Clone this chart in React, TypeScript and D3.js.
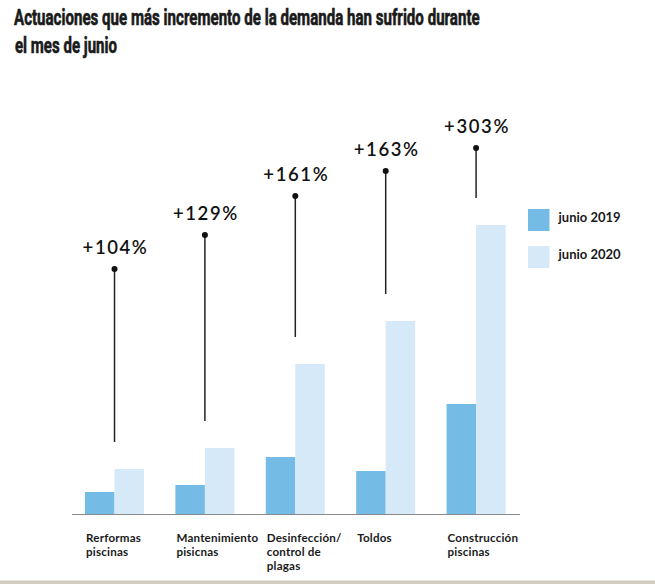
import React, { useEffect, useRef } from 'react';
import * as d3 from 'd3';

// values (arbitrary units, baseline = 0)
const categories = ['Reformas', 'Mantenimiento', 'Desinfeccion', 'Toldos', 'Construccion'];
const categoryLines = [
  ['Rerformas', 'piscinas'],
  ['Mantenimiento', 'pisicnas'],
  ['Desinfección/', 'control de', 'plagas'],
  ['Toldos'],
  ['Construcción', 'piscinas'],
];
const series = ['junio 2019', 'junio 2020'];
const values2019 = [22, 29, 57, 43, 110];
const values2020 = [45, 66, 150, 193, 289];
const increaseLabels = ['+104%', '+129%', '+161%', '+163%', '+303%'];
const markerLevels = [245, 279, 318, 343, 366];
const titleLines = ['Actuaciones que más incremento de la demanda han sufrido durante', 'el mes de junio'];

const colors = ['#74bce6', '#d6e9f9'];

function Chart() {
  const ref = useRef<HTMLDivElement>(null);

  useEffect(() => {
    const width = 655;
    const height = 584;

    d3.select(ref.current).select('svg').remove();

    const svg = d3
      .select(ref.current)
      .append('svg')
      .attr('width', width)
      .attr('height', height)
      .style('position', 'absolute')
      .style('left', 0)
      .style('top', 0)
      .style('background', '#fff');

    // title, squeezed horizontally to look like the condensed face of the original
    const title = svg
      .append('g')
      .style('font-family', 'Roboto, sans-serif')
      .style('font-weight', 700)
      .style('font-size', '21.5px')
      .attr('fill', '#1a1a1a')
      .attr('stroke', '#1a1a1a')
      .attr('stroke-width', 0.6);
    const titleWidths = [466, 102];
    titleLines.forEach((line, i) => {
      const g = title.append('g');
      const t = g.append('text').attr('x', 0).attr('y', 0).text(line);
      const natural = (t.node() as SVGTextElement).getComputedTextLength();
      const sx = natural > 0 ? titleWidths[i] / natural : 0.8;
      g.attr('transform', `translate(${14 + i}, ${25 + i * 28}) scale(${sx}, 1)`);
    });

    const baseline = 514;
    const y = d3.scaleLinear().domain([0, 400]).range([baseline, baseline - 400]);
    const x = d3.scaleBand().domain(categories).range([85, 505.6]).paddingInner(0.347).paddingOuter(0);
    const xSub = d3.scaleBand().domain(series).range([0, x.bandwidth()]).padding(0);

    const rows = categories.map((c, i) => ({
      category: c,
      lines: categoryLines[i],
      values: [values2019[i], values2020[i]],
      label: increaseLabels[i],
      marker: markerLevels[i],
    }));

    const groups = svg
      .selectAll('.group')
      .data(rows)
      .enter()
      .append('g')
      .attr('class', 'group')
      .attr('transform', (d) => `translate(${x(d.category)},0)`);

    groups
      .selectAll('rect')
      .data((d) => d.values.map((v, j) => ({ key: series[j], value: v, j })))
      .enter()
      .append('rect')
      .attr('x', (d) => xSub(d.key) as number)
      .attr('y', (d) => y(d.value))
      .attr('width', xSub.bandwidth())
      .attr('height', (d) => baseline - y(d.value))
      .attr('fill', (d) => colors[d.j]);

    // axis line
    svg
      .append('line')
      .attr('x1', 72)
      .attr('x2', 520)
      .attr('y1', baseline + 0.5)
      .attr('y2', baseline + 0.5)
      .attr('stroke', '#8a8a8a')
      .attr('stroke-width', 1.2);

    // annotation lines with dots
    const cx = x.bandwidth() / 2;
    groups
      .append('line')
      .attr('x1', cx)
      .attr('x2', cx)
      .attr('y1', (d) => y(d.marker))
      .attr('y2', (d) => y(d.values[1]) - 27)
      .attr('stroke', '#222')
      .attr('stroke-width', 1.5);
    groups
      .append('circle')
      .attr('cx', cx)
      .attr('cy', (d) => y(d.marker))
      .attr('r', 3)
      .attr('fill', '#111');
    groups
      .append('text')
      .attr('x', cx + 1)
      .attr('y', (d) => y(d.marker) - 15)
      .attr('text-anchor', 'middle')
      .style('font-family', 'Lato, sans-serif')
      .style('font-size', '18.5px')
      .style('font-weight', 600)
      .style('letter-spacing', '1.6px')
      .attr('fill', '#111')
      .text((d) => d.label);

    // category labels
    groups
      .append('text')
      .attr('x', 1)
      .attr('y', 541.5)
      .style('font-family', 'Lato, sans-serif')
      .style('font-size', '11.6px')
      .style('font-weight', 700)
      .style('letter-spacing', '0.2px')
      .attr('fill', '#1a1a1a')
      .selectAll('tspan')
      .data((d) => d.lines)
      .enter()
      .append('tspan')
      .attr('x', 1)
      .attr('dy', (d, i) => (i === 0 ? 0 : 14))
      .text((d) => d);

    // legend
    const legend = svg
      .selectAll('.legend')
      .data(series)
      .enter()
      .append('g')
      .attr('class', 'legend')
      .attr('transform', (d, i) => `translate(528, ${209 + i * 37})`);
    legend
      .append('rect')
      .attr('width', 21.5)
      .attr('height', 22)
      .attr('fill', (d, i) => colors[i]);
    legend
      .append('text')
      .attr('x', 30.5)
      .attr('y', 13)
      .style('font-family', 'Lato, sans-serif')
      .style('font-size', '13px')
      .style('font-weight', 700)
      .attr('fill', '#1a1a1a')
      .text((d) => d);

    // edge strip at the bottom of the picture
    svg
      .append('rect')
      .attr('x', 0)
      .attr('y', 580.5)
      .attr('width', width)
      .attr('height', 3.5)
      .attr('fill', '#d2ccbf');
  }, []);

  return <div ref={ref}></div>;
}

export default function App() {
  return <Chart />;
}
